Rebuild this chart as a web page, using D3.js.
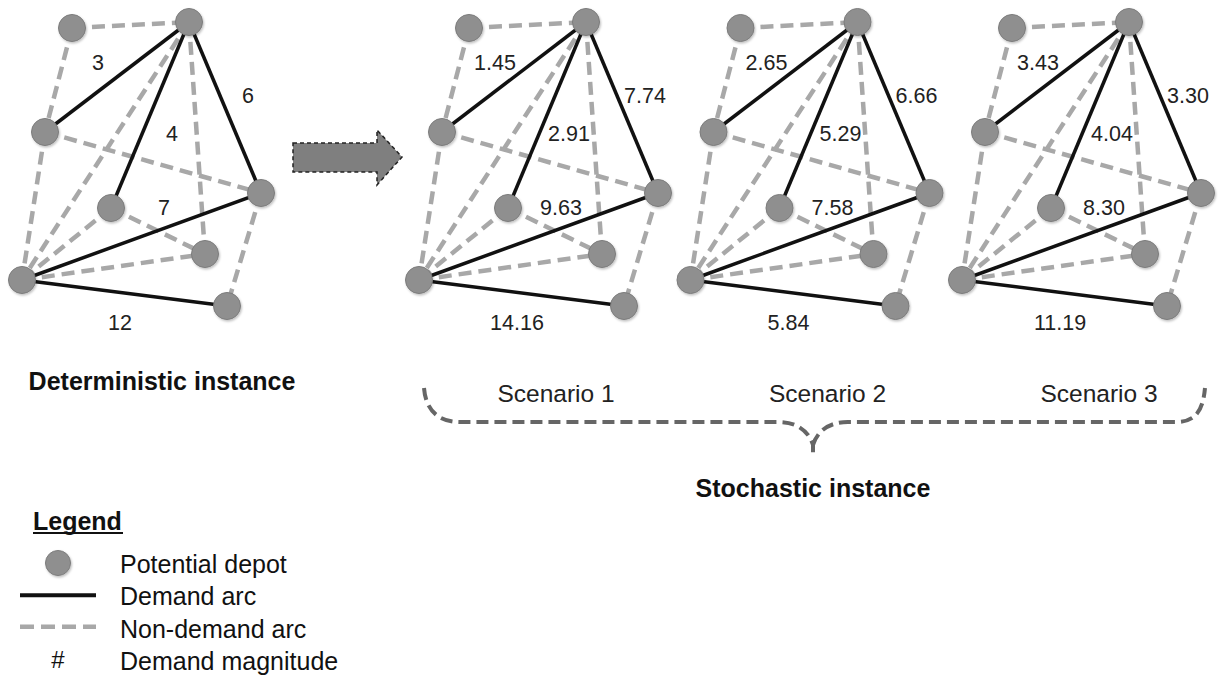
<!DOCTYPE html>
<html>
<head>
<meta charset="utf-8">
<script src="https://cdn.jsdelivr.net/npm/d3@7"></script>
<style>
  html, body { margin: 0; padding: 0; background: #fff; }
  svg { display: block; font-family: "Liberation Sans", Arial, Helvetica, sans-serif; }
</style>
</head>
<body>
<svg id="chart" width="1225" height="676"></svg>
<script>
// ---- data ----
const nodeIds = ["A", "B", "C", "D", "E", "F", "G", "H"];
const demandArcs = [["C", "B"], ["B", "E"], ["B", "D"], ["G", "D"], ["G", "H"]];
const nonDemandArcs = [["A", "B"], ["A", "C"], ["C", "G"], ["C", "D"], ["B", "G"],
                       ["B", "F"], ["E", "G"], ["E", "F"], ["G", "F"], ["D", "H"]];
const deterministicDemand = [3, 4, 6, 7, 12];
const scenarios = ["Scenario 1", "Scenario 2", "Scenario 3"];
const scenarioDemand = [
  ["1.45", "2.91", "7.74", "9.63", "14.16"],
  ["2.65", "5.29", "6.66", "7.58", "5.84"],
  ["3.43", "4.04", "3.30", "8.30", "11.19"]
];
const legendItems = ["Potential depot", "Demand arc", "Non-demand arc", "Demand magnitude"];

// ---- layout (positions inside one panel) ----
const nodePos = {
  A: [72, 28], B: [189, 22], C: [45, 132], D: [261, 193],
  E: [111, 208], F: [205, 254], G: [22, 280], H: [227, 306]
};
const labelPos = [[98, 62], [172, 133], [248, 95], [164, 207], [120, 322]];

const svg = d3.select("#chart");

const defs = svg.append("defs");
const shadow = defs.append("filter").attr("id", "sh")
  .attr("x", "-30%").attr("y", "-30%").attr("width", "160%").attr("height", "160%");
shadow.append("feDropShadow").attr("dx", 1).attr("dy", 1.5).attr("stdDeviation", 1.2)
  .attr("flood-color", "#000").attr("flood-opacity", 0.25);

const scenarioX = d3.scalePoint().domain(scenarios).range([397, 940]);

function drawPanel(offset, labels) {
  const x = d3.scaleLinear().domain([0, 300]).range([offset, offset + 300]);
  const y = d3.scaleLinear().domain([0, 300]).range([0, 300]);
  const g = svg.append("g");

  g.selectAll("line.nd").data(nonDemandArcs).enter().append("line")
    .attr("class", "nd")
    .attr("x1", d => x(nodePos[d[0]][0])).attr("y1", d => y(nodePos[d[0]][1]))
    .attr("x2", d => x(nodePos[d[1]][0])).attr("y2", d => y(nodePos[d[1]][1]))
    .attr("stroke", "#a8a8a8").attr("stroke-width", 4.5)
    .attr("stroke-dasharray", "13,7");

  g.selectAll("line.dm").data(demandArcs).enter().append("line")
    .attr("class", "dm")
    .attr("x1", d => x(nodePos[d[0]][0])).attr("y1", d => y(nodePos[d[0]][1]))
    .attr("x2", d => x(nodePos[d[1]][0])).attr("y2", d => y(nodePos[d[1]][1]))
    .attr("stroke", "#111").attr("stroke-width", 3.5);

  g.selectAll("circle").data(nodeIds).enter().append("circle")
    .attr("cx", d => x(nodePos[d][0])).attr("cy", d => y(nodePos[d][1]))
    .attr("r", 13.5)
    .attr("fill", "#8f8f8f").attr("stroke", "#7c7c7c").attr("stroke-width", 1)
    .attr("filter", "url(#sh)");

  g.selectAll("text").data(labels).enter().append("text")
    .attr("x", (d, i) => x(labelPos[i][0]))
    .attr("y", (d, i) => y(labelPos[i][1]) + 7.5)
    .attr("text-anchor", "middle")
    .attr("font-size", 21.5).attr("fill", "#222")
    .text(d => d);
}

drawPanel(0, deterministicDemand);
scenarios.forEach((s, i) => drawPanel(scenarioX(s), scenarioDemand[i]));

// arrow
svg.append("path")
  .attr("d", "M293,143 L377,143 L377,130 L402,157 L377,185 L377,172 L293,172 Z")
  .attr("fill", "#7f7f7f").attr("stroke", "#222").attr("stroke-width", 1.5)
  .attr("stroke-dasharray", "4,3");

// titles
svg.append("text").attr("x", 162).attr("y", 390).attr("text-anchor", "middle")
  .attr("font-size", 25).attr("font-weight", "bold").attr("fill", "#111")
  .text("Deterministic instance");

svg.selectAll("text.scen").data(scenarios).enter().append("text")
  .attr("class", "scen")
  .attr("x", d => scenarioX(d) + 159).attr("y", 402)
  .attr("text-anchor", "middle").attr("font-size", 24.5).attr("fill", "#222")
  .text(d => d);

// brace
svg.append("path")
  .attr("d", "M424,388 C426,412 440,422 460,422 L778,422 C798,422 809,432 813,445 L813,458 " +
             "M813,445 C817,432 828,422 848,422 L1176,422 C1196,422 1203,410 1205,388")
  .attr("fill", "none").attr("stroke", "#666").attr("stroke-width", 4)
  .attr("stroke-dasharray", "12,6");

svg.append("text").attr("x", 813).attr("y", 497).attr("text-anchor", "middle")
  .attr("font-size", 25).attr("font-weight", "bold").attr("fill", "#111")
  .text("Stochastic instance");

// legend
const lg = svg.append("g");
lg.append("text").attr("x", 33).attr("y", 530)
  .attr("font-size", 25).attr("font-weight", "bold").attr("fill", "#111")
  .text("Legend");
lg.append("line").attr("x1", 33).attr("x2", 123).attr("y1", 533).attr("y2", 533)
  .attr("stroke", "#111").attr("stroke-width", 2);

const legendY = d3.scalePoint().domain(legendItems).range([573, 670]);
lg.selectAll("text.li").data(legendItems).enter().append("text")
  .attr("class", "li")
  .attr("x", 120).attr("y", d => legendY(d))
  .attr("font-size", 25).attr("fill", "#111")
  .text(d => d);

lg.append("circle").attr("cx", 58).attr("cy", legendY(legendItems[0]) - 10).attr("r", 12.5)
  .attr("fill", "#8f8f8f").attr("stroke", "#7c7c7c").attr("filter", "url(#sh)");
lg.append("line").attr("x1", 20).attr("x2", 96)
  .attr("y1", legendY(legendItems[1]) - 10).attr("y2", legendY(legendItems[1]) - 10)
  .attr("stroke", "#111").attr("stroke-width", 4);
lg.append("line").attr("x1", 20).attr("x2", 96)
  .attr("y1", legendY(legendItems[2]) - 11).attr("y2", legendY(legendItems[2]) - 11)
  .attr("stroke", "#a8a8a8").attr("stroke-width", 4.5).attr("stroke-dasharray", "14,7");
lg.append("text").attr("x", 58).attr("y", legendY(legendItems[3]) - 2)
  .attr("text-anchor", "middle").attr("font-size", 24).attr("fill", "#111")
  .text("#");
</script>
</body>
</html>
